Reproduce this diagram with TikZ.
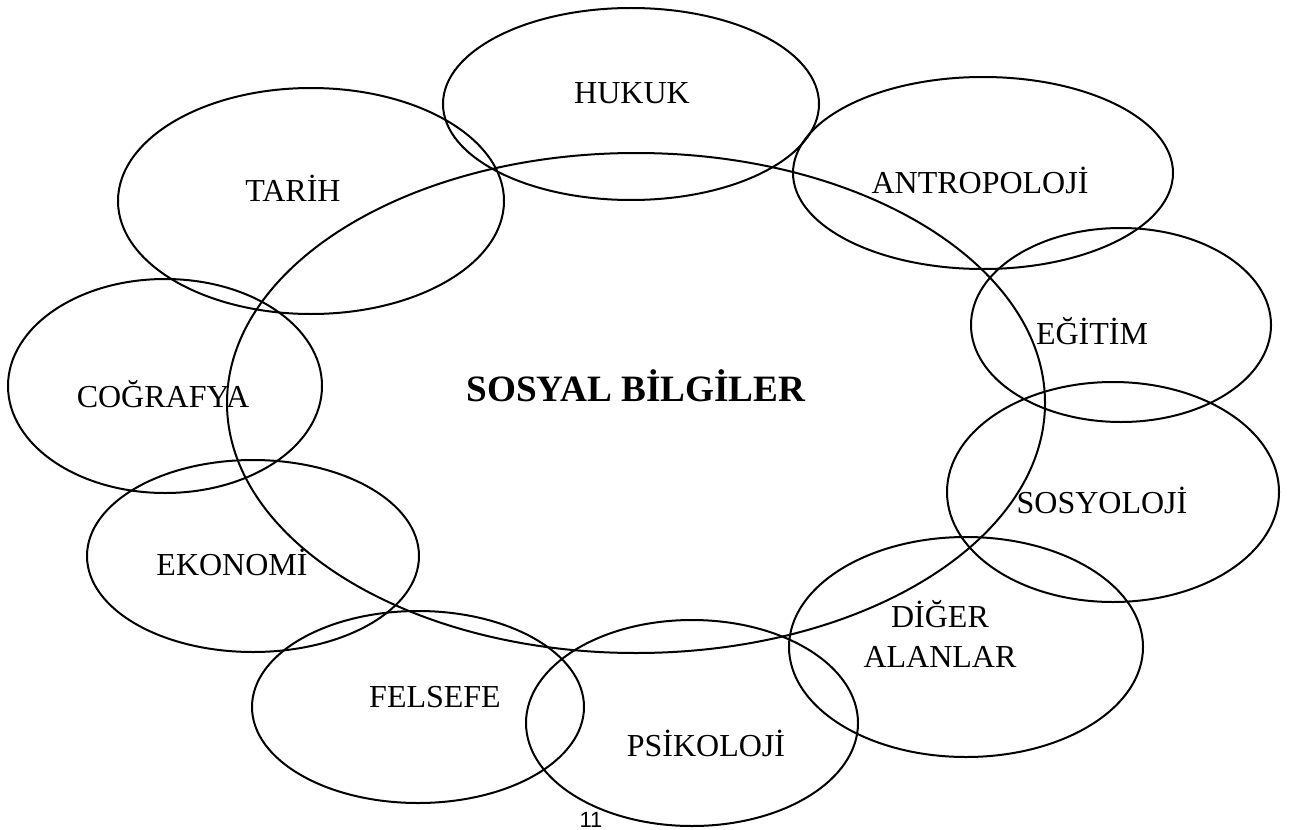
\documentclass[tikz,border=0pt]{standalone}
\usepackage{fontspec}
\setmainfont{Liberation Serif}
\newfontfamily\pagefont{Liberation Sans}
\usetikzlibrary{shapes.geometric}

\begin{document}
\begin{tikzpicture}
[x=0.5pt,y=-0.5pt,
  fieldDecorate/.style={shape=ellipse,draw,line width=1pt,inner sep=0pt},
  labelDecorate/.style={anchor=base,inner sep=0pt,font=\fontsize{16}{20}\selectfont},
  titleDecorate/.style={anchor=base,inner sep=0pt,font=\fontsize{18.6}{22}\selectfont\bfseries}]
\useasboundingbox (0,0) rectangle (1305,829);
%% ellipses (centre and radii in pixels)
\foreach \fieldname/\x/\y/\rx/\ry in {
  sosyal/636/403/409/250, hukuk/631/104/188/96, tarih/311/201/193/113,
  antropoloji/983/173/190/96, egitim/1121/325/150/97,
  cografya/165/386/157/107, sosyoloji/1113/492/166/110,
  ekonomi/253/556/166/96, felsefe/418/707/166/96,
  psikoloji/692/723/166/103, diger/966/647/177/110}
{
  \node (\fieldname) at (\x,\y) [fieldDecorate,minimum width=\rx pt,minimum height=\ry pt] {};
}
%% labels
\foreach \labelname/\x/\y/\labeltext in {
  hukukText/632/104/HUKUK, tarihText/293/201/TARİH,
  antropolojiText/980/193/ANTROPOLOJİ, egitimText/1092/344/EĞİTİM,
  cografyaText/163/407/COĞRAFYA, sosyolojiText/1102/513/SOSYOLOJİ,
  ekonomiText/232/575/EKONOMİ, digerText/940/627/DİĞER,
  alanlarText/940/667/ALANLAR, felsefeText/435/707/FELSEFE,
  psikolojiText/706/756/PSİKOLOJİ}
{
  \node (\labelname) at (\x,\y) [labelDecorate] {\labeltext};
}
\node (title) at (636,401) [titleDecorate] {SOSYAL BİLGİLER};
\node (page) at (591,827) [anchor=base,inner sep=0pt,font=\pagefont\fontsize{11}{13}\selectfont] {11};
\end{tikzpicture}
\end{document}
